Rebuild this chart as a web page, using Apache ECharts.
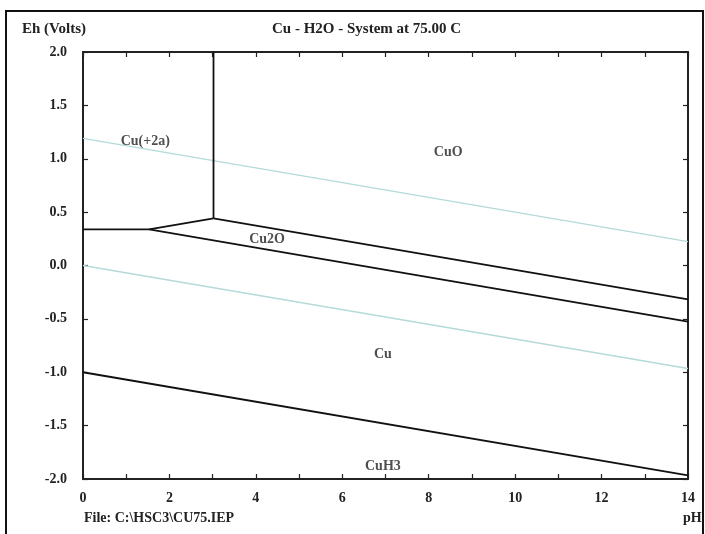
<!DOCTYPE html>
<html><head><meta charset="utf-8">
<script src="https://cdn.jsdelivr.net/npm/echarts@6/dist/echarts.min.js"></script>
<style>html,body{margin:0;padding:0;background:#fff}#c{width:705px;height:534px}</style>
</head><body><div id="c"></div>
<script>
var title = 'Cu - H2O - System at 75.00 C';
var yName = 'Eh (Volts)';
var xName = 'pH';
var fileNote = 'File: C:\\HSC3\\CU75.IEP';
var xTicks = [0,2,4,6,8,10,12,14];
var yTicks = [-2.0,-1.5,-1.0,-0.5,0.0,0.5,1.0,1.5,2.0];

// Boundary lines (pH, Eh)
var cu2Cu2O = [[0,0.339],[1.53,0.339]];
var cu2CuO = [[3.02,0.442],[3.02,2.0]];
var cu2Cu2Oslope = [[1.53,0.339],[3.02,0.442]];
var cuOCu2O = [[3.02,0.442],[14,-0.317]];
var cu2OCu = [[1.53,0.339],[14,-0.526]];
var cuCuH3 = [[0,-1.0],[14,-1.967]];
var waterO2 = [[0,1.191],[14,0.223]];
var waterH2 = [[0,0.0],[14,-0.965]];

var regionNames = ['Cu(+2a)','CuO','Cu2O','Cu','CuH3'];
var regionPos = [[1.44,1.16],[8.45,1.06],[4.26,0.24],[6.94,-0.83],[6.94,-1.88]];

var FONT = 'Liberation Serif';
function blk(d){return {type:'line',data:d,symbol:'none',silent:true,lineStyle:{color:'#111',width:1.8},z:3};}
function cyan(d){return {type:'line',data:d,symbol:'none',silent:true,lineStyle:{color:'#b4dada',width:1.3},z:2};}
function ax(pos, show, isX){
  var a = {
    type:'value',position:pos,
    axisLine:{onZero:false,lineStyle:{color:'#222',width:2}},
    axisTick:{inside:true,length:5,lineStyle:{color:'#222',width:1.2}},
    splitLine:{show:false}
  };
  if(isX){a.min=0;a.max=14;a.interval=1;}else{a.min=-2;a.max=2;a.interval=0.5;}
  if(!show){a.axisLabel={show:false};}
  else if(isX){a.axisLabel={margin:12,color:'#222',fontFamily:FONT,fontWeight:'bold',fontSize:14,
      formatter:function(v){return xTicks.indexOf(v)>=0?String(v):'';}};}
  else{a.axisLabel={margin:16,color:'#222',fontFamily:FONT,fontWeight:'bold',fontSize:14,
      formatter:function(v){return v.toFixed(1);}};}
  return a;
}

var chart = echarts.init(document.getElementById('c'));
chart.setOption({
  animation:false,
  backgroundColor:'#fff',
  grid:{left:83,top:52,width:605,height:427,show:false},
  xAxis:[ax('bottom',true,true), ax('top',false,true)],
  yAxis:[ax('left',true,false), ax('right',false,false)],
  series:[
    cyan(waterO2), cyan(waterH2),
    blk(cu2Cu2O), blk(cu2CuO), blk(cu2Cu2Oslope), blk(cuOCu2O), blk(cu2OCu), blk(cuCuH3),
    {type:'scatter',symbolSize:0,silent:true,z:5,
     data:regionPos.map(function(p,i){return {value:p,name:regionNames[i]};}),
     label:{show:true,position:'inside',formatter:'{b}',color:'#222',fontFamily:FONT,fontWeight:'bold',fontSize:14}}
  ],
  graphic:[
    {type:'rect',shape:{x:6,y:11,width:697,height:540},style:{fill:'none',stroke:'#111',lineWidth:2},silent:true},
    {type:'text',left:22,top:22,style:{text:yName,fontFamily:FONT,fontWeight:'bold',fontSize:15,fill:'#222'}},
    {type:'text',left:272,top:22,style:{text:title,fontFamily:FONT,fontWeight:'bold',fontSize:15,fill:'#222'}},
    {type:'text',left:84,top:511,style:{text:fileNote,fontFamily:FONT,fontWeight:'bold',fontSize:14,fill:'#222'}},
    {type:'text',left:683,top:511,style:{text:xName,fontFamily:FONT,fontWeight:'bold',fontSize:14,fill:'#222'}}
  ]
});
</script></body></html>
